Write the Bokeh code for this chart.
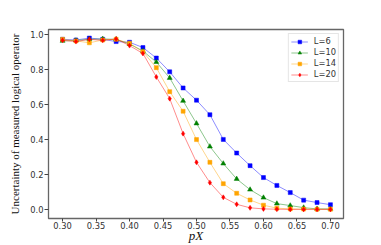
from bokeh.plotting import figure
from bokeh.models import Range1d, FixedTicker, Legend, LegendItem
from bokeh.embed import file_html
from bokeh.resources import INLINE

p_x = [0.30, 0.32, 0.34, 0.36, 0.38, 0.40, 0.42, 0.44, 0.46, 0.48, 0.50,
       0.52, 0.54, 0.56, 0.58, 0.60, 0.62, 0.64, 0.66, 0.68, 0.70]
L6 = [0.973, 0.969, 0.980, 0.973, 0.960, 0.956, 0.926, 0.866, 0.787, 0.695, 0.625,
      0.542, 0.401, 0.323, 0.251, 0.183, 0.138, 0.097, 0.054, 0.040, 0.028]
L10 = [0.964, 0.966, 0.973, 0.975, 0.973, 0.946, 0.906, 0.843, 0.752, 0.621, 0.492,
       0.360, 0.263, 0.175, 0.114, 0.068, 0.034, 0.023, 0.011, 0.004, 0.004]
L14 = [0.973, 0.964, 0.953, 0.969, 0.973, 0.950, 0.902, 0.811, 0.674, 0.562, 0.400,
       0.270, 0.148, 0.093, 0.055, 0.025, 0.008, 0.004, 0.003, 0.002, 0.002]
L20 = [0.967, 0.960, 0.973, 0.967, 0.975, 0.937, 0.892, 0.758, 0.634, 0.434, 0.270,
       0.154, 0.070, 0.030, 0.010, 0.004, 0.002, 0.001, 0.001, 0.001, 0.001]
labels = ["L=6", "L=10", "L=14", "L=20"]
x_ticks = [0.30, 0.35, 0.40, 0.45, 0.50, 0.55, 0.60, 0.65, 0.70]
y_ticks = [0.0, 0.2, 0.4, 0.6, 0.8, 1.0]
x_label = "pX"
y_label = "Uncertainty of measured logical operator"

p = figure(width=365, height=245, output_backend="svg", toolbar_location=None,
           x_range=Range1d(0.279, 0.7195), y_range=Range1d(-0.051, 1.029),
           min_border_left=48, min_border_right=22, min_border_top=29, min_border_bottom=26)
p.grid.visible = False
p.outline_line_color = "#666666"
p.outline_line_width = 1.3
p.background_fill_color = "white"
p.border_fill_color = "white"

for ax in (p.xaxis[0], p.yaxis[0]):
    ax.axis_line_color = None
    ax.major_tick_line_color = "#444444"
    ax.major_tick_in = 0
    ax.minor_tick_line_color = None
    ax.major_label_text_font = "DejaVu Sans"
    ax.major_label_text_font_size = "8.3px"
    ax.major_label_text_color = "#333333"

p.xaxis.major_tick_out = 3
p.yaxis.major_tick_out = 4
p.xaxis.major_label_standoff = 0
p.yaxis.major_label_standoff = 1
p.xaxis.ticker = FixedTicker(ticks=x_ticks)
p.xaxis.major_label_overrides = {t: f"{t:.2f}" for t in x_ticks}
p.yaxis.ticker = FixedTicker(ticks=y_ticks)
p.yaxis.major_label_overrides = {t: f"{t:.1f}" for t in y_ticks}

p.xaxis.axis_label = x_label
p.xaxis.axis_label_text_font = "Liberation Serif"
p.xaxis.axis_label_text_font_style = "italic"
p.xaxis.axis_label_text_font_size = "13px"
p.xaxis.axis_label_text_color = "#111111"
p.xaxis.axis_label_standoff = -4

p.yaxis.axis_label = y_label
p.yaxis.axis_label_text_font = "Liberation Serif"
p.yaxis.axis_label_text_font_style = "normal"
p.yaxis.axis_label_text_font_size = "11px"
p.yaxis.axis_label_text_color = "#111111"
p.yaxis.axis_label_standoff = 6

series = [L6, L10, L14, L20]
colors = ["blue", "green", "orange", "red"]
markers = ["square", "triangle", "square", "diamond"]
sizes = [4, 5, 4, 5]
items = []
for ys, c, m, s, lab in zip(series, colors, markers, sizes, labels):
    r1 = p.line(p_x, ys, line_color=c, line_alpha=0.45, line_width=1)
    r2 = p.scatter(p_x, ys, marker=m, size=s, fill_color=c, line_color=c, line_width=0.5)
    items.append(LegendItem(label=lab, renderers=[r1, r2]))

legend = Legend(items=items, location="top_right")
legend.label_text_font = "DejaVu Sans"
legend.label_text_font_size = "8.3px"
legend.label_text_color = "#333333"
legend.glyph_width = 17
legend.glyph_height = 9
legend.label_height = 9
legend.spacing = 1
legend.padding = 2
legend.margin = 4
legend.label_standoff = 6
legend.border_line_color = "#cccccc"
legend.border_line_width = 1
legend.background_fill_alpha = 0.9
p.add_layout(legend)

open("out.html", "w").write(file_html(p, INLINE))
